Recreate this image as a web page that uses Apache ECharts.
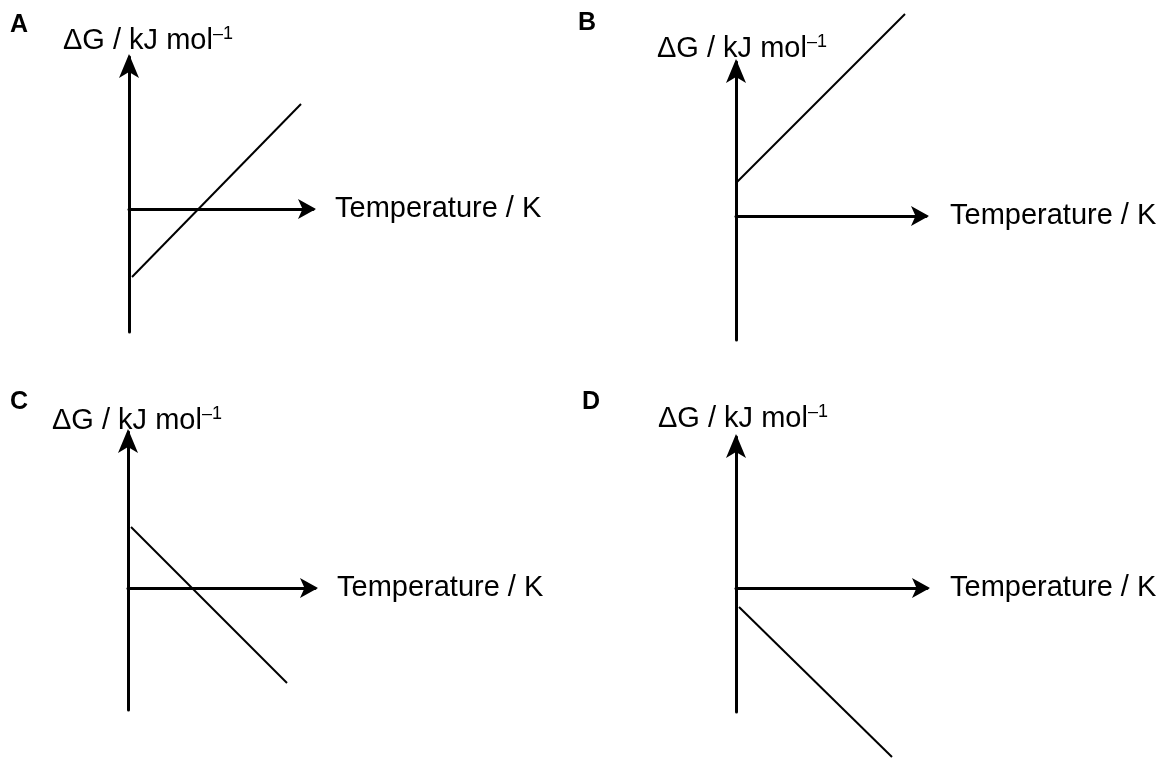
<!DOCTYPE html>
<html><head><meta charset="utf-8">
<script src="https://cdn.jsdelivr.net/npm/echarts@6/dist/echarts.min.js"></script>
<style>html,body{margin:0;padding:0;background:#fff}#c{width:1163px;height:758px}</style>
</head><body><div id="c"></div>
<script>
const panelLetters = ['A', 'B', 'C', 'D'];
const yAxisTitle = 'ΔG / kJ mol';
const yAxisTitleSup = '–1';
const xAxisTitle = 'Temperature / K';
// axis ranges (arbitrary units), per panel A..D
const xMax = [18.4, 19.0, 18.7, 19.1];
const yMin = [-12.3, -12.4, -12.2, -12.4];
const yMax = [15.2, 15.4, 15.6, 15.1];
// straight lines: [temperature, ΔG] end points
const lineA = [[0.3, -6.8], [17.2, 10.5]];
const lineB = [[0.0, 3.3], [16.9, 20.2]];
const lineC = [[0.3, 6.1], [15.9, -9.5]];
const lineD = [[0.3, -1.9], [15.6, -16.9]];
const lines = [lineA, lineB, lineC, lineD];

// layout (pixels)
const grids = [
  {left: 129, top: 57, width: 184, height: 275},
  {left: 736, top: 62, width: 190, height: 278},
  {left: 128, top: 432, width: 187, height: 278},
  {left: 736, top: 437, width: 191, height: 275}
];
const nameGaps = [22, 24, 22, 23];
const letterPos = [[10, 26.5], [578, 25], [10, 404], [582, 404]];
const titlePos = [[63, 41], [657, 49], [52, 421], [658, 419]];

const FONT = '"Liberation Sans", Arial, Helvetica, sans-serif';
const chart = echarts.init(document.getElementById('c'), null, {renderer: 'canvas'});

const xAxes = [], yAxes = [], series = [], graphic = [];
for (let i = 0; i < 4; i++) {
  xAxes.push({
    type: 'value', gridIndex: i, min: 0, max: xMax[i],
    axisLine: {onZero: true, symbol: ['none', 'arrow'], symbolSize: [15, 18], symbolOffset: [0, 3],
      lineStyle: {color: '#000', width: 3}},
    axisTick: {show: false}, axisLabel: {show: false}, splitLine: {show: false},
    name: xAxisTitle, nameLocation: 'end', nameGap: nameGaps[i],
    nameTextStyle: {fontFamily: FONT, fontSize: 29, color: '#000'}
  });
  yAxes.push({
    type: 'value', gridIndex: i, min: yMin[i], max: yMax[i],
    axisLine: {onZero: true, symbol: ['none', 'arrow'], symbolSize: [15, 24], symbolOffset: [0, 3],
      lineStyle: {color: '#000', width: 3}},
    axisTick: {show: false}, axisLabel: {show: false}, splitLine: {show: false}
  });
  series.push({
    type: 'line', xAxisIndex: i, yAxisIndex: i, data: lines[i],
    showSymbol: false, clip: false, silent: true,
    lineStyle: {color: '#000', width: 2}
  });
  graphic.push({
    type: 'text', left: letterPos[i][0], top: letterPos[i][1] - 14,
    style: {text: panelLetters[i], fontFamily: FONT, fontSize: 25, fontWeight: 'bold', fill: '#000'}
  });
  graphic.push({
    type: 'text', x: titlePos[i][0], y: titlePos[i][1],
    style: {
      text: '{m|' + yAxisTitle + '}{s|' + yAxisTitleSup + '}',
      verticalAlign: 'middle', align: 'left',
      rich: {
        m: {fontFamily: FONT, fontSize: 29, lineHeight: 32, fill: '#000', verticalAlign: 'middle'},
        s: {fontFamily: FONT, fontSize: 18, lineHeight: 18, fill: '#000', verticalAlign: 'top'}
      }
    }
  });
}

chart.setOption({
  animation: false,
  backgroundColor: '#fff',
  grid: grids.map(g => Object.assign({containLabel: false}, g)),
  xAxis: xAxes,
  yAxis: yAxes,
  series: series,
  graphic: graphic
});
</script>
</body></html>
